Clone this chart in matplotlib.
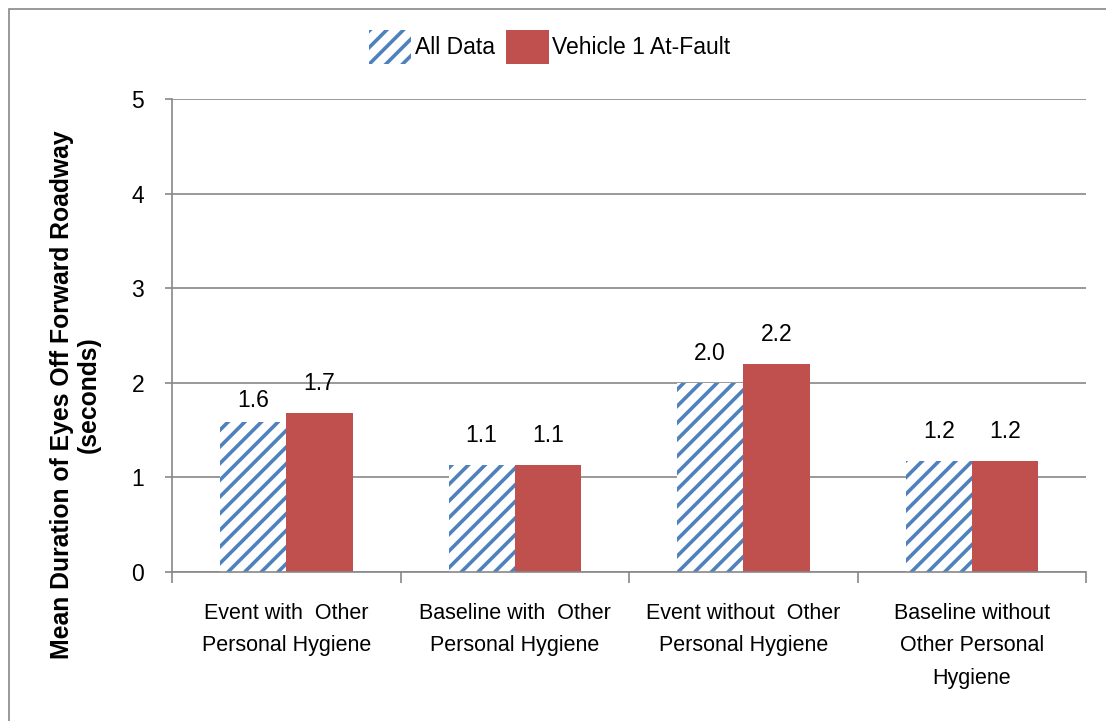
import matplotlib
matplotlib.use("Agg")
import numpy as np
from matplotlib import pyplot as plt
from matplotlib.patches import Rectangle

categories = ["Event with  Other\nPersonal Hygiene",
              "Baseline with  Other\nPersonal Hygiene",
              "Event without  Other\nPersonal Hygiene",
              "Baseline without\nOther Personal\nHygiene"]
all_data = [1.59, 1.13, 2.0, 1.17]
at_fault = [1.68, 1.13, 2.2, 1.17]
all_labels = ["1.6", "1.1", "2.0", "1.2"]
fault_labels = ["1.7", "1.1", "2.2", "1.2"]

blue = "#4F81BD"
red = "#C0504D"
grid_gray = "#888888"

plt.rcParams["font.family"] = ["Liberation Sans", "DejaVu Sans"]
plt.rcParams["hatch.linewidth"] = 2.6
plt.rcParams["hatch.color"] = blue

fig = plt.figure(figsize=(11.06, 7.21), dpi=100)
fig.patches.append(Rectangle((0.008, -0.1), 1.1, 1.088, transform=fig.transFigure,
                             fill=False, edgecolor="#888888", linewidth=1.2))
ax = fig.add_axes([0.1555, 0.2067, 0.8265, 0.656])

x = np.arange(len(categories))
w = 0.29
b1 = ax.bar(x - w / 2, all_data, w, color="white", hatch="//", edgecolor=blue, linewidth=0)
b2 = ax.bar(x + w / 2, at_fault, w, color=red, linewidth=0)

# excel nudged the first label down a bit
gap = [0.1, 0.19, 0.19, 0.19]
for i in range(len(categories)):
    ax.text(x[i] - w / 2, all_data[i] + gap[i], all_labels[i], ha="center", va="bottom",
            fontsize=16.5)
    ax.text(x[i] + w / 2, at_fault[i] + 0.19, fault_labels[i], ha="center", va="bottom",
            fontsize=16.5)

ax.set_xlim(-0.5, len(categories) - 0.5)
ax.set_ylim(0, 5)
ax.set_yticks(range(6))
ax.yaxis.grid(True, color=grid_gray, linewidth=1.2)
ax.set_axisbelow(True)
for s in ["top", "right"]:
    ax.spines[s].set_visible(False)
ax.spines["left"].set_color(grid_gray)
ax.spines["bottom"].set_color(grid_gray)
ax.spines["left"].set_linewidth(1.2)
ax.spines["bottom"].set_linewidth(1.2)

ax.set_xticks(np.arange(-0.5, len(categories)), minor=False)
ax.set_xticklabels([])
ax.set_xticks(x, minor=True)
ax.set_xticklabels(categories, minor=True, fontsize=15.5, linespacing=1.72)
ax.tick_params(axis="x", which="major", length=8, color=grid_gray, width=1.2)
ax.tick_params(axis="x", which="minor", length=0, pad=22)
ax.tick_params(axis="y", length=5, color=grid_gray, width=1.2, labelsize=16.5, pad=15)

ax.set_ylabel("Mean Duration of Eyes Off Forward Roadway\n(seconds)", fontsize=17.8,
              fontweight="bold", linespacing=1.15)
ax.yaxis.set_label_coords(-0.0775, 0.374)

leg = fig.legend([b1, b2], ["All Data", "Vehicle 1 At-Fault"], loc="center",
                 bbox_to_anchor=(0.497, 0.935), ncol=2, frameon=False, fontsize=16.5,
                 handlelength=1.85, handleheight=1.95,
                 handletextpad=0.15, columnspacing=0.5)

fig.savefig("out.png", dpi=100)
